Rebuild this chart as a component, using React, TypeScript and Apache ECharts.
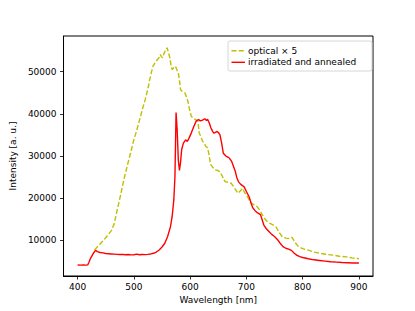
import React, { useEffect, useRef } from "react";
import * as echarts from "echarts";

const xTicks = [400, 500, 600, 700, 800, 900];
const yTicks = [10000, 20000, 30000, 40000, 50000];

const redX = [400,405,410,415,418,420,423,426,429,432,435,440,445,450,455,460,465,470,475,480,485,490,495,500,505,510,515,520,525,530,535,540,545,550,555,560,565,568,571,573,575,577,579,581,583,585,588,592,595,598,602,606,611,615,618,622,626,629,631,634,637,640,642,645,648,651,653,656,659,663,667,670,674,677,680,683,686,690,693,696,700,705,708,711,715,720,725,728,731,735,740,745,750,755,760,765,770,775,780,785,790,795,800,810,820,830,840,850,860,870,880,890,900];
const redY = [4000,3980,4010,3990,4050,4600,5600,6300,7000,7500,7200,7000,6900,6750,6700,6650,6600,6550,6500,6550,6450,6500,6420,6450,6600,6450,6500,6480,6550,6650,6800,7100,7600,8300,9200,10800,13100,15500,19500,25000,40300,36000,29000,26500,28500,31500,33000,33800,33400,34200,35400,36800,38300,38600,38300,38500,38800,38400,38700,37800,36600,35800,35400,35600,35800,35400,35000,33000,30600,30000,29700,29400,28600,27500,26400,24800,23800,23200,22900,22600,21500,20200,18900,17700,17000,16400,16000,14800,13500,12700,12000,11300,10800,10100,9200,8400,8000,7800,7500,6800,6300,6000,5800,5500,5250,5100,4950,4800,4700,4600,4550,4500,4500];

const optX = [430,440,450,460,465,471,477,482,488,494,500,505,510,515,520,525,528,531,534,538,542,545,547,549,551,554,557,559,561,564,566,568,571,574,576,579,581,583,587,591,594,596,599,602,606,610,614,616,619,622,625,628,631,634,636,640,645,649,653,657,662,667,673,679,685,689,693,697,702,707,713,719,725,730,736,742,748,753,758,764,770,776,781,787,793,800,810,820,833,845,855,865,878,888,898,900];
const optY = [7600,9000,10500,12200,13800,17500,21000,24200,27500,30600,33800,36000,38500,41000,43300,46000,48000,49800,51300,52200,52900,53400,54100,53600,53300,54500,55300,55700,54800,53300,51500,50500,51000,51300,50600,49700,48000,45700,45200,44900,43800,43000,41000,39400,38900,38600,38200,35500,34600,33500,33000,32200,31900,30000,28000,27300,26640,26500,26230,25200,23850,23700,23460,22300,21080,21600,22270,21200,20260,18900,18400,17900,16800,15500,14500,13900,13500,13000,11800,10700,10400,10330,10600,9300,8330,7900,7540,7100,6750,6500,6350,6100,5940,5700,5560,5500];

const seriesNames = ["optical × 5", "irradiated and annealed"];
const xName = "Wavelength [nm]";
const yName = "Intensity [a. u.]";

const FONT = "DejaVu Sans";

export default function App() {
  const ref = useRef<HTMLDivElement>(null);
  useEffect(() => {
    if (!ref.current) return;
    const chart = echarts.init(ref.current, null, { renderer: "svg" });
    const axisCommon = {
      axisLine: { show: true, lineStyle: { color: "#000", width: 1 } },
      axisTick: { show: true, length: 3.5, lineStyle: { color: "#000", width: 0.8 } },
      splitLine: { show: false },
      nameLocation: "middle",
      nameTextStyle: { fontFamily: FONT, fontSize: 9, color: "#000" },
    };
    chart.setOption({
      animation: false,
      grid: {
        left: 52, top: 36, width: 321, height: 240,
        show: true, borderColor: "#000", borderWidth: 1, backgroundColor: "transparent",
      },
      xAxis: {
        ...axisCommon,
        type: "value",
        min: 375,
        max: 925,
        name: xName,
        nameGap: 17,
        axisTick: { ...axisCommon.axisTick, customValues: xTicks },
        axisLabel: { customValues: xTicks, fontFamily: FONT, fontSize: 9, color: "#000", margin: 6, formatter: (v: number) => String(v) },
      },
      yAxis: {
        ...axisCommon,
        type: "value",
        min: 1400,
        max: 58500,
        name: yName,
        nameGap: 37,
        axisTick: { ...axisCommon.axisTick, customValues: yTicks },
        axisLabel: { customValues: yTicks, fontFamily: FONT, fontSize: 9, color: "#000", margin: 7, formatter: (v: number) => String(v) },
      },
      series: [
        {
          name: seriesNames[0],
          type: "line",
          data: optX.map((x, i) => [x, optY[i]]),
          showSymbol: false,
          symbol: "none",
          lineStyle: { color: "#bfbf00", width: 1.4, type: [5, 2.2] },
          z: 2,
        },
        {
          name: seriesNames[1],
          type: "line",
          data: redX.map((x, i) => [x, redY[i]]),
          showSymbol: false,
          symbol: "none",
          lineStyle: { color: "#ff0000", width: 1.4 },
          z: 3,
        },
      ],
      graphic: [
        {
          type: "rect",
          shape: { x: 228, y: 41, width: 144, height: 30, r: 2 },
          style: { fill: "rgba(255,255,255,0.8)", stroke: "#cccccc", lineWidth: 0.8 },
          z: 10,
        },
        {
          type: "line",
          shape: { x1: 231.5, y1: 50.7, x2: 245, y2: 50.7 },
          style: { stroke: "#bfbf00", lineWidth: 1.4, lineDash: [5, 2.2] },
          z: 11,
        },
        {
          type: "line",
          shape: { x1: 231.5, y1: 62.3, x2: 245, y2: 62.3 },
          style: { stroke: "#ff0000", lineWidth: 1.4 },
          z: 11,
        },
        {
          type: "text",
          x: 248,
          y: 50.7,
          style: { text: seriesNames[0], fontFamily: FONT, fontSize: 9, fill: "#000", verticalAlign: "middle" },
          z: 11,
        },
        {
          type: "text",
          x: 248,
          y: 62.3,
          style: { text: seriesNames[1], fontFamily: FONT, fontSize: 9, fill: "#000", verticalAlign: "middle" },
          z: 11,
        },
      ],
    });
    return () => chart.dispose();
  }, []);
  return (
    <div
      ref={ref}
      style={{ position: "absolute", left: 0, top: 0, width: 415, height: 311, background: "#fff" }}
    />
  );
}
